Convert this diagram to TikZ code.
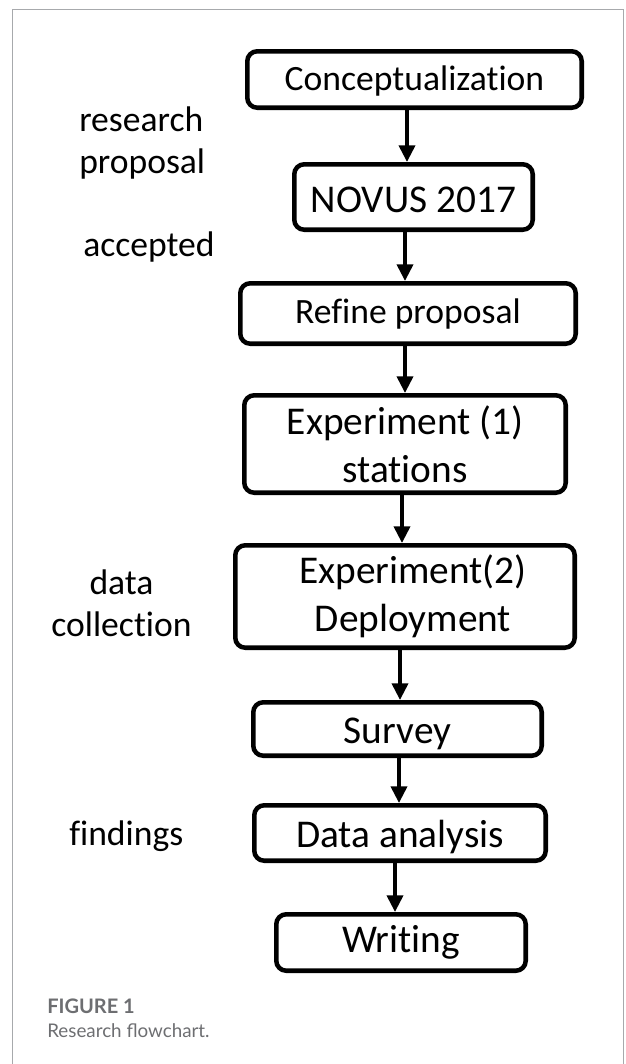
\documentclass[tikz,border=0pt]{standalone}
\usepackage{fontspec}
\setmainfont{Carlito}[Ligatures=NoCommon]
\newfontfamily\capfont{Lato}
\usetikzlibrary{arrows.meta}
\definecolor{capgray}{HTML}{6D6E71}
\definecolor{panelgray}{HTML}{A7A9AC}
\begin{document}
\begin{tikzpicture}[x=0.75pt,y=-0.75pt,
  flow/.style={draw, line width=3.4pt, rounded corners=7.5pt, inner sep=0pt, align=center,
    font=\fontsize{29.5}{36}\selectfont},
  smalltext/.style={font=\fontsize{26.7}{36}\selectfont},
  bl/.style={text depth=5pt, text height=#1},
  sz/.style 2 args={minimum width=#1*0.75pt-3.4pt, minimum height=#2*0.75pt-3.4pt},
  arr/.style={line width=2.8pt, -{Triangle[width=12pt,length=12.5pt]}},
  side/.style={font=\fontsize{26.7}{31}\selectfont, inner sep=0pt},
  panel/.style={draw=panelgray, line width=0.9pt},
  captext/.style={inner sep=0pt, anchor=base west, text=capgray}]
\useasboundingbox (0,0) rectangle (625,1064);
\draw[panel] (12.5,1064) -- (12.5,9.5) -- (623.5,9.5) -- (623.5,1064);

\node[flow, smalltext, bl=21.8pt, sz={339}{61}]  (n1) at (414.5,79.5) {Conceptualization};
\node[flow, bl=27.5pt, sz={243}{70}]  (n2) at (413.5,197)  {NOVUS 2017};
\node[flow, smalltext, bl=19.7pt, sz={340}{65}]  (n3) at (408,313.5)  {Refine proposal};
\node[flow, sz={326}{102}] (n4) at (405,444)    {Experiment (1)\\stations};
\node[flow, sz={344}{107}] (n5) at (405,596.5)  {\hspace*{12pt}Experiment(2)\\\hspace*{12pt}Deployment};
\node[flow, bl=26pt, sz={293}{58}]  (n6) at (397.5,729)  {Survey};
\node[flow, bl=26pt, sz={296}{60}]  (n7) at (400,833)    {Data analysis};
\node[flow, bl=19.25pt, sz={254}{61}]  (n8) at (401,942.5)  {Writing};

\coordinate (x1) at (407,0);
\coordinate (x2) at (405,0);
\coordinate (x3) at (405,0);
\coordinate (x4) at (402,0);
\coordinate (x5) at (400,0);
\coordinate (x6) at (399,0);
\coordinate (x7) at (395,0);
\draw[arr] (n1.south -| x1) -- (n2.north -| x1);
\draw[arr] (n2.south -| x2) -- (n3.north -| x2);
\draw[arr] (n3.south -| x3) -- (n4.north -| x3);
\draw[arr] (n4.south -| x4) -- (n5.north -| x4);
\draw[arr] (n5.south -| x5) -- (n6.north -| x5);
\draw[arr] (n6.south -| x6) -- (n7.north -| x6);
\draw[arr] (n7.south -| x7) -- (n8.north -| x7);

\node[side, anchor=base west, align=left] (l1) at (79,173) {research\\proposal};
\node[side, anchor=base west] (l2) at (83,256) {accepted};
\node[side, anchor=base, align=center] (l3) at (121.5,636) {data\\collection};
\node[side, anchor=base west] (l4) at (69,845) {findings};

\node[captext, font=\capfont\bfseries\fontsize{15}{17}\selectfont] (c1) at (47,1013) {FIGURE 1};
\node[captext, font=\capfont\fontsize{14.1}{16}\selectfont] (c2) at (47,1037) {Research flowchart.};
\end{tikzpicture}
\end{document}
